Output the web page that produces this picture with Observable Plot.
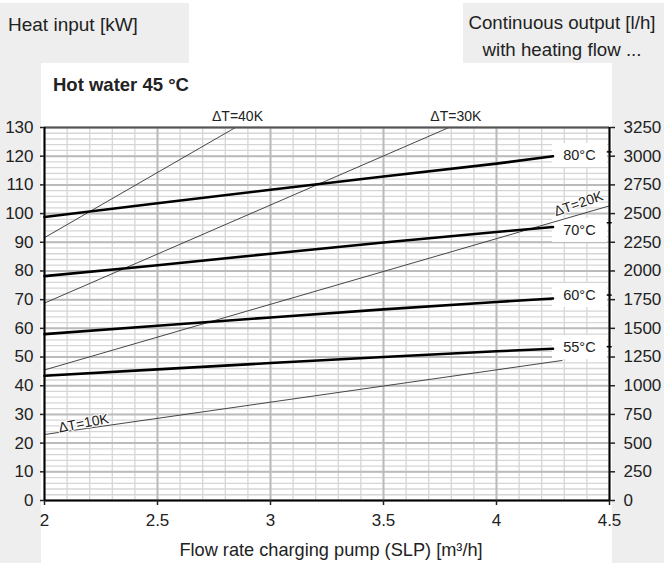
<!DOCTYPE html>
<html>
<head>
<meta charset="utf-8">
<script src="https://cdn.jsdelivr.net/npm/d3@7"></script>
<script src="https://cdn.jsdelivr.net/npm/@observablehq/plot@0.6"></script>
<style>
  html, body { margin: 0; padding: 0; background: white; }
  #page { position: relative; width: 664px; height: 567px; overflow: hidden; background: white;
          font-family: "Liberation Sans", Arial, sans-serif; color: #222; }
  .gray { position: absolute; background: #eeeeee; }
  .txt { position: absolute; white-space: nowrap; line-height: 1; }
</style>
</head>
<body>
<div id="page">
  <div class="gray" style="left:0;top:3px;width:189px;height:60px"></div>
  <div class="gray" style="left:0;top:63px;width:41px;height:500px"></div>
  <div class="gray" style="left:463px;top:3px;width:201px;height:60px"></div>
  <div class="gray" style="left:612px;top:63px;width:52px;height:500px"></div>
  <div class="txt" style="left:8px;top:15px;font-size:19px">Heat input [kW]</div>
  <div class="txt" style="left:462px;width:200px;top:9px;font-size:18.7px;text-align:center;line-height:27px;">Continuous output [l/h]<br>with heating flow ...</div>
  <div class="txt" style="left:53px;top:76px;font-size:18.5px;font-weight:bold">Hot water 45 °C</div>
  <div id="chart" style="position:absolute;left:0;top:100px"></div>
  <div class="txt" style="left:131px;width:400px;top:541px;font-size:18.2px;text-align:center">Flow rate charging pump (SLP) [m³/h]</div>
</div>
<script>
// ---- data ----
const flow = [2, 2.5, 3, 3.5, 4, 4.25];
const t80 = [98.8, 103.6, 108.3, 112.9, 117.4, 120.0];
const t70 = [78.2, 82.0, 86.0, 89.9, 93.6, 95.3];
const t60 = [58.0, 60.9, 63.8, 66.6, 69.2, 70.4];
const t55 = [43.5, 45.7, 47.9, 50.0, 52.0, 52.9];
const tempNames = ["80°C", "70°C", "60°C", "55°C"];
const tempSeries = [t80, t70, t60, t55];
const tempLabelX = [4.367, 4.367, 4.367, 4.367];
const tempLabelY = [120.25, 94.1, 71.45, 53.3];
const tempEndMarks = [121.5, 96.8, 71.6, 53.6];

const dtNames = ["ΔT=10K", "ΔT=20K", "ΔT=30K", "ΔT=40K"];
const dtFlow = [[2, 4.29], [2, 4.5], [2, 3.79], [2, 2.845]];
const dtHeat = [[23.0, 48.8], [45.5, 102.7], [68.8, 130], [91.6, 130]];
// labels
const dtTopNames = ["ΔT=40K", "ΔT=30K"];
const dtTopX = [2.854, 3.82];
const dtRotNames = ["ΔT=20K", "ΔT=10K"];
const dtRotX = [4.363, 2.173];
const dtRotY = [103.4, 26.9];
const dtRotAngle = [-19, -11];

const xTicks = [2, 2.5, 3, 3.5, 4, 4.5];
const xTickLabels = ["2", "2.5", "3", "3.5", "4", "4.5"];
const yTicks = [0, 10, 20, 30, 40, 50, 60, 70, 80, 90, 100, 110, 120, 130];
const yTickLabels = ["0","10","20","30","40","50","60","70","80","90","100","110","120","130"];
const rightTickLabels = ["0","250","500","750","1000","1250","1500","1750","2000","2250","2500","2750","3000","3250"];

// ---- tables ----
const tempRows = tempSeries.flatMap((s, k) => s.map((v, i) => ({series: tempNames[k], x: flow[i], y: v})));
const dtRows = dtNames.flatMap((n, k) => dtFlow[k].map((f, i) => ({series: n, x: f, y: dtHeat[k][i]})));
const tempLabels = tempNames.map((n, i) => ({text: n, x: tempLabelX[i], y: tempLabelY[i]}));
const dtTop = dtTopNames.map((n, i) => ({text: n, x: dtTopX[i], y: 130}));
const dtRot = dtRotNames.map((n, i) => ({text: n, x: dtRotX[i], y: dtRotY[i], a: dtRotAngle[i]}));
const minorX = d3.range(20, 46).map(d => d / 10);
const minorY = d3.range(0, 131, 2);

const chart = Plot.plot({
  width: 664,
  height: 467,
  marginTop: 27,
  marginBottom: 67,
  marginLeft: 44,
  marginRight: 55,
  style: {background: "transparent", fontFamily: "'Liberation Sans', Arial, sans-serif", fontSize: "17px", color: "#222"},
  x: {domain: [2, 4.5]},
  y: {domain: [0, 130]},
  marks: [
    Plot.ruleX(minorX, {stroke: "#d6d6d6", strokeWidth: 1.3}),
    Plot.ruleY(minorY, {stroke: "#d6d6d6", strokeWidth: 1.3}),
    Plot.ruleX(xTicks, {stroke: "#bbbbbb", strokeWidth: 2}),
    Plot.ruleY(yTicks, {stroke: "#bbbbbb", strokeWidth: 2}),
    Plot.rect(tempLabels, {x1: "x", x2: "x", y1: "y", y2: "y", insetLeft: -27, insetRight: -28, insetTop: -12, insetBottom: -12, fill: "white"}),
    Plot.line(dtRows, {x: "x", y: "y", z: "series", stroke: "#333", strokeWidth: 0.9}),
    Plot.line(tempRows, {x: "x", y: "y", z: "series", stroke: "black", strokeWidth: 2.6}),
    Plot.ruleY([130], {stroke: "#555", strokeWidth: 2}),
    Plot.ruleY([0], {stroke: "black", strokeWidth: 2}),
    Plot.ruleX([2, 4.5], {stroke: "black", strokeWidth: 2}),
    Plot.ruleY(tempEndMarks, {x1: 4.49, x2: 4.512, stroke: "black", strokeWidth: 1.5}),
    Plot.axisX({ticks: xTicks, tickFormat: d => xTickLabels[xTicks.indexOf(d)], tickSize: 5, tickPadding: 8, strokeWidth: 1.5, fontSize: 17, label: null}),
    Plot.axisY({anchor: "left", ticks: yTicks, tickFormat: d => yTickLabels[yTicks.indexOf(d)], tickSize: 4, tickPadding: 7, strokeWidth: 1.5, fontSize: 17, label: null}),
    Plot.axisY({anchor: "right", ticks: yTicks, tickFormat: d => rightTickLabels[yTicks.indexOf(d)], tickSize: 5, tickPadding: 9, strokeWidth: 1.5, fontSize: 17, label: null}),
    Plot.text(tempLabels, {x: "x", y: "y", text: "text", fontSize: 14.5, fill: "#222"}),
    Plot.text(dtTop, {x: "x", y: "y", dy: -11, text: "text", fontSize: 14, fill: "#222"}),
    Plot.text(dtRot, {x: "x", y: "y", text: "text", rotate: "a", fontSize: 14, fill: "#222", stroke: "white", strokeWidth: 2})
  ]
});
document.getElementById("chart").appendChild(chart);
</script>
</body>
</html>
